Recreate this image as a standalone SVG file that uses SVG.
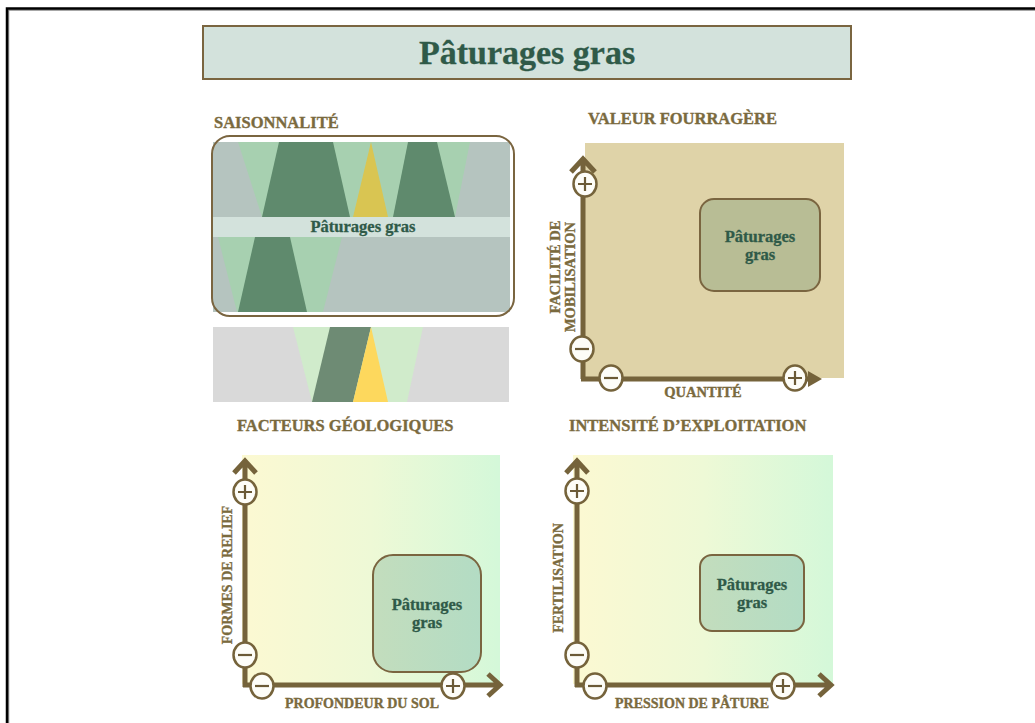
<svg xmlns="http://www.w3.org/2000/svg" width="1035" height="723" viewBox="0 0 1035 723">
<style>
.lbl{font-family:"Liberation Serif","Times New Roman",serif;font-weight:bold;fill:#7a6a3e;stroke:#7a6a3e;stroke-width:0.35}
.nt{font-family:"Liberation Serif","Times New Roman",serif;font-weight:bold;fill:#2f5a48;stroke:#2f5a48;stroke-width:0.3;text-anchor:middle}
.ax{stroke:#75633b;stroke-width:5;fill:none}
.node{stroke:#7a6540;stroke-width:2}
.sg{fill:#fdfdf8;stroke:#75633b;stroke-width:2.5}
.sl{stroke:#6b5a36;stroke-width:2.2;fill:none}
</style>
<defs>
<linearGradient id="gbg" x1="0" y1="0" x2="1" y2="0">
<stop offset="0" stop-color="#fcf9d2"/>
<stop offset="0.5" stop-color="#eef9d6"/>
<stop offset="1" stop-color="#d4f8d9"/>
</linearGradient>
<linearGradient id="gbox" x1="0" y1="0" x2="1" y2="0">
<stop offset="0" stop-color="#c3ddbd"/>
<stop offset="1" stop-color="#b3dcc4"/>
</linearGradient>
<g id="plus"><ellipse rx="11.5" ry="12.5" class="sg"/><path d="M-7 0H7M0 -7V7" class="sl"/></g>
<g id="minus"><ellipse rx="11.5" ry="12.5" class="sg"/><path d="M-7 0H7" class="sl"/></g>
</defs>
<rect width="1035" height="723" fill="#ffffff"/>
<path d="M8.5 723V10H1035" fill="none" stroke="#8a8a8a" stroke-width="1.5"/>
<path d="M7 723V8.5H1035" fill="none" stroke="#000000" stroke-width="2.5"/>

<g id="title">
<rect x="203" y="26" width="648" height="53" fill="#d3e2dc" class="node"/>
<text x="527" y="64" class="nt" font-size="34">Pâturages gras</text>
</g>

<g id="saisonnalite">
<text x="214" y="128" class="lbl" font-size="16.5">SAISONNALITÉ</text>
<rect x="213" y="142" width="297" height="170" fill="#b5c4bf"/>
<polygon points="238,142 470,142 455,217 262,217" fill="#a7d0b0"/>
<polygon points="279,142 333,142 350,217 262,217" fill="#5f8a6d"/>
<polygon points="371,142 388,217 353,217" fill="#d9c552"/>
<polygon points="408,142 437,142 455,217 393,217" fill="#5f8a6d"/>
<polygon points="218,237 342,237 323,312 237,312" fill="#a7d0b0"/>
<polygon points="255,237 290,237 307,312 238,312" fill="#5f8a6d"/>
<rect x="213" y="217" width="297" height="20" fill="#d3e2dc"/>
<text x="363" y="232" class="nt" font-size="16.5">Pâturages gras</text>
<rect x="212" y="136" width="302" height="180" rx="18" fill="none" class="node"/>
<rect x="213" y="327" width="296" height="75" fill="#d9d9d9"/>
<polygon points="293,327 423,327 407,402 312,402" fill="#d0ebcb"/>
<polygon points="330,327 371,327 353,402 312,402" fill="#6e8b74"/>
<polygon points="371,327 388,402 353,402" fill="#fdd85d"/>
</g>

<g id="valeur">
<text x="588" y="124" class="lbl" font-size="16.5">VALEUR FOURRAGÈRE</text>
<rect x="585" y="143" width="259" height="235" fill="#dfd3a8"/>
<text transform="translate(560,267) rotate(-90)" class="lbl" font-size="14.5" text-anchor="middle">FACILITÉ DE</text>
<text transform="translate(575,277) rotate(-90)" class="lbl" font-size="14.5" text-anchor="middle">MOBILISATION</text>
<text x="703" y="397" class="lbl" font-size="14.5" text-anchor="middle">QUANTITÉ</text>
<g id="box-valeur">
<rect x="700" y="199" width="120" height="92" rx="14" fill="#b8bd95" class="node"/>
<text x="760" y="242" class="nt" font-size="16.5">Pâturages</text>
<text x="760" y="260" class="nt" font-size="16.5">gras</text>
</g>
</g>

<g id="geologie">
<text x="237" y="431" class="lbl" font-size="16.5">FACTEURS GÉOLOGIQUES</text>
<rect x="242" y="455" width="258" height="229" fill="url(#gbg)"/>
<text transform="translate(232,575) rotate(-90)" class="lbl" font-size="14" text-anchor="middle">FORMES DE RELIEF</text>
<text x="362" y="708" class="lbl" font-size="14" text-anchor="middle">PROFONDEUR DU SOL</text>
<g id="box-geologie">
<rect x="373" y="555" width="108" height="117" rx="20" fill="url(#gbox)" class="node"/>
<text x="427" y="610" class="nt" font-size="16.5">Pâturages</text>
<text x="427" y="628" class="nt" font-size="16.5">gras</text>
</g>
</g>

<g id="intensite">
<text x="569" y="431" class="lbl" font-size="16.5">INTENSITÉ D’EXPLOITATION</text>
<rect x="573" y="455" width="260" height="229" fill="url(#gbg)"/>
<text transform="translate(563,578) rotate(-90)" class="lbl" font-size="14" text-anchor="middle">FERTILISATION</text>
<text x="692" y="708" class="lbl" font-size="14" text-anchor="middle">PRESSION DE PÂTURE</text>
<g id="box-intensite">
<rect x="700" y="555" width="104" height="76" rx="12" fill="url(#gbox)" class="node"/>
<text x="752" y="590" class="nt" font-size="16.5">Pâturages</text>
<text x="752" y="608" class="nt" font-size="16.5">gras</text>
</g>
</g>

<g id="connectors">
<path d="M583 379V160M571 172L583 159L595 172" class="ax"/>
<path d="M581 379H810" class="ax"/>
<polygon points="808,371 822,379 808,387" fill="#75633b"/>
<path d="M245 687V462M234 473L245 461L256 473" class="ax"/>
<path d="M243 685H500M488 674L500 685L488 696" class="ax"/>
<path d="M577 687V462M566 473L577 461L588 473" class="ax"/>
<path d="M575 685H831M819 674L831 685L819 696" class="ax"/>
<use href="#plus" x="585" y="184"/>
<use href="#minus" x="582" y="349"/>
<use href="#minus" x="611" y="378"/>
<use href="#plus" x="795" y="378"/>
<use href="#plus" x="245" y="492"/>
<use href="#minus" x="245" y="655"/>
<use href="#minus" x="262" y="686"/>
<use href="#plus" x="453" y="686"/>
<use href="#plus" x="577" y="491"/>
<use href="#minus" x="577" y="655"/>
<use href="#minus" x="595" y="686"/>
<use href="#plus" x="783" y="686"/>
</g>
</svg>
